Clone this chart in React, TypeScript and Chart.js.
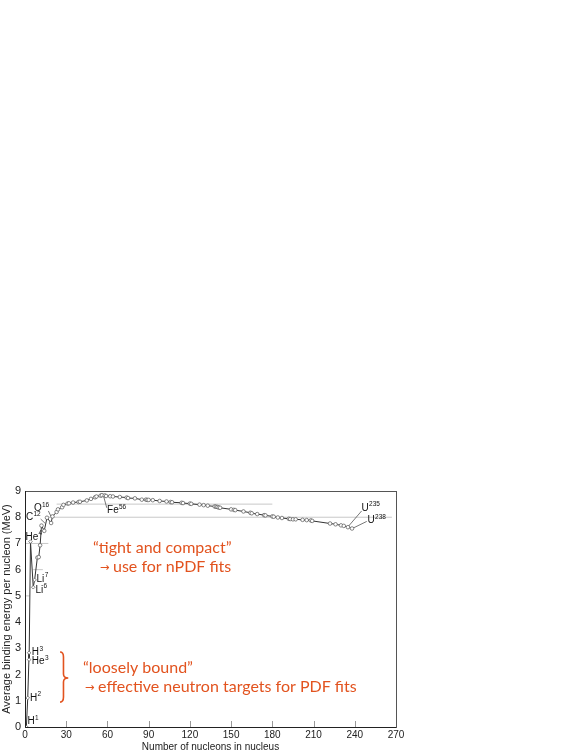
import React, { useEffect, useRef } from "react";
import { Chart, registerables } from "chart.js";
Chart.register(...registerables);

// Mass number A of each nuclide (curve order)
const massNumbers = [
  1, 2, 3, 3, 4, 6, 7, 9, 10, 11, 12, 14, 16, 19, 20, 23, 24, 27, 28, 31, 32, 35, 39, 40,
  45, 48, 51, 52, 55, 56, 58, 59, 62, 64, 69, 74, 75, 80, 85, 88, 89, 90, 93, 98, 103,
  106, 107, 114, 115, 120, 121, 127, 130, 133, 138, 139, 140, 141, 142, 150, 152, 153,
  159, 164, 165, 169, 174, 175, 180, 181, 184, 187, 192, 193, 195, 197, 202, 205, 208,
  209, 222, 226, 230, 232, 235, 238,
];
// Average binding energy per nucleon (MeV)
const bindingEnergy = [
  0, 1.11, 2.83, 2.57, 7.07, 5.33, 5.61, 6.46, 6.48, 6.93, 7.68, 7.48, 7.98, 7.78, 8.03,
  8.2, 8.3, 8.38, 8.47, 8.52, 8.53, 8.56, 8.58, 8.59, 8.64, 8.7, 8.76, 8.79, 8.82, 8.84,
  8.83, 8.81, 8.8, 8.79, 8.77, 8.75, 8.73, 8.72, 8.67, 8.67, 8.66, 8.66, 8.65, 8.62, 8.6,
  8.58, 8.57, 8.55, 8.54, 8.52, 8.51, 8.48, 8.46, 8.44, 8.41, 8.4, 8.39, 8.37, 8.36, 8.3,
  8.28, 8.27, 8.22, 8.17, 8.15, 8.12, 8.08, 8.07, 8.03, 8.02, 7.99, 7.97, 7.94, 7.93,
  7.92, 7.92, 7.9, 7.89, 7.88, 7.86, 7.76, 7.73, 7.69, 7.67, 7.62, 7.57,
];

const xTickValues = [0, 30, 60, 90, 120, 150, 180, 210, 240, 270];
const yTickValues = [0, 1, 2, 3, 4, 5, 6, 7, 8, 9];

// partial reference lines: energy, from A, to A
const refLineEnergy = [8.5, 8, 7, 6, 5];
const refLineFrom = [23, 17, 0, 6, 0];
const refLineTo = [180, 267, 17, 13, 3.5];

// nuclide labels: base, superscript, A, E (label anchor)
const labelBase = ["H", "H", "H", "He", "He", "Li", "Li", "C", "O", "Fe", "U", "U"];
const labelSup = ["1", "2", "3", "3", "4", "7", "6", "12", "16", "56", "235", "238"];
const labelA = [1.8, 3.6, 5.0, 5.0, 0.3, 8.4, 7.6, 0.7, 6.5, 59.7, 244.9, 249.3];
const labelE = [0.23, 1.11, 2.86, 2.52, 7.25, 5.65, 5.23, 7.98, 8.34, 8.26, 8.36, 7.88];

// leader lines
const leaderA1 = [57, 235.3, 237.8, 11.4, 17];
const leaderE1 = [8.84, 7.65, 7.56, 7.93, 8.24];
const leaderA2 = [59.5, 245, 248.7, 14.6, 19.4];
const leaderE2 = [8.36, 8.24, 7.84, 7.77, 7.98];

// annotation texts (arrow prefix drawn separately)
const noteArrow = [false, true, false, true];
const noteText = [
  "\u201Ctight and compact\u201D",
  "use for nPDF fits",
  "\u201Cloosely bound\u201D",
  "effective neutron targets for PDF fits",
];
const noteA = [49.5, 54.6, 42.2, 43.7];
const noteE = [6.82, 6.1, 2.25, 1.53];

// brace (A, E) top, tip, bottom
const braceA = [25.5, 28.0, 31.5];
const braceE = [2.86, 1.87, 0.95];

const ORANGE = "#e2531f";
const AXIS_FONT = "'Liberation Sans', Arial, sans-serif";

export default function App() {
  const ref = useRef<HTMLCanvasElement | null>(null);
  useEffect(() => {
    document.body.style.margin = "0";
    const canvas = ref.current!;
    const curve = massNumbers.map((a, i) => ({ x: a, y: bindingEnergy[i] }));
    const refSets = refLineEnergy.map((e, i) => ({
      type: "line" as const,
      data: [
        { x: refLineFrom[i], y: e },
        { x: refLineTo[i], y: e },
      ],
      borderColor: "#c8c8c8",
      borderWidth: 1,
      pointRadius: 0,
      order: 2,
    }));
    const leaderSets = leaderA1.map((a, i) => ({
      type: "line" as const,
      data: [
        { x: a, y: leaderE1[i] },
        { x: leaderA2[i], y: leaderE2[i] },
      ],
      borderColor: "#555",
      borderWidth: 0.8,
      pointRadius: 0,
      order: 1,
    }));

    const overlay = {
      id: "overlay",
      afterDraw(chart: any) {
        const { ctx, chartArea } = chart;
        const xs = chart.scales.x;
        const ys = chart.scales.y;
        ctx.save();
        // x tick marks inside
        ctx.strokeStyle = "#999";
        ctx.lineWidth = 1;
        xTickValues.forEach((v) => {
          const px = Math.round(xs.getPixelForValue(v)) + 0.5;
          ctx.beginPath();
          ctx.moveTo(px, chartArea.bottom);
          ctx.lineTo(px, chartArea.bottom - 6);
          ctx.stroke();
        });
        // frame
        ctx.strokeStyle = "#555";
        ctx.lineWidth = 1;
        ctx.strokeRect(
          Math.round(chartArea.left) + 0.5,
          Math.round(chartArea.top) + 0.5,
          Math.round(chartArea.right - chartArea.left),
          Math.round(chartArea.bottom - chartArea.top)
        );
        ctx.strokeStyle = "#222";
        ctx.beginPath();
        ctx.moveTo(Math.round(chartArea.left) + 0.5, chartArea.top);
        ctx.lineTo(Math.round(chartArea.left) + 0.5, Math.round(chartArea.bottom) + 0.5);
        ctx.lineTo(chartArea.right, Math.round(chartArea.bottom) + 0.5);
        ctx.stroke();

        // nuclide labels
        ctx.fillStyle = "#111";
        ctx.textBaseline = "middle";
        ctx.textAlign = "left";
        labelBase.forEach((b, i) => {
          const px = xs.getPixelForValue(labelA[i]);
          const py = ys.getPixelForValue(labelE[i]);
          ctx.font = `10px ${AXIS_FONT}`;
          ctx.fillText(b, px, py);
          const w = ctx.measureText(b).width;
          ctx.font = `6.5px ${AXIS_FONT}`;
          ctx.fillText(labelSup[i], px + w + 0.3, py - 3.2);
        });

        // notes
        ctx.fillStyle = ORANGE;
        noteText.forEach((t, i) => {
          let px = xs.getPixelForValue(noteA[i]);
          const py = ys.getPixelForValue(noteE[i]);
          if (noteArrow[i]) {
            ctx.font = "11.5px 'DejaVu Sans', sans-serif";
            ctx.fillText("\u2192", px, py + 1);
            px += 13;
          }
          ctx.font = "16px Lato, 'Open Sans', sans-serif";
          ctx.fillText(t, px, py);
        });

        // brace
        const bx0 = xs.getPixelForValue(braceA[0]);
        const bx1 = xs.getPixelForValue(braceA[1]);
        const bx2 = xs.getPixelForValue(braceA[2]);
        const by0 = ys.getPixelForValue(braceE[0]);
        const by1 = ys.getPixelForValue(braceE[1]);
        const by2 = ys.getPixelForValue(braceE[2]);
        ctx.strokeStyle = ORANGE;
        ctx.lineWidth = 1.6;
        ctx.beginPath();
        ctx.moveTo(bx0, by0);
        ctx.quadraticCurveTo(bx1, by0, bx1, by0 + 5);
        ctx.lineTo(bx1, by1 - 4);
        ctx.quadraticCurveTo(bx1, by1, bx2, by1);
        ctx.quadraticCurveTo(bx1, by1, bx1, by1 + 4);
        ctx.lineTo(bx1, by2 - 5);
        ctx.quadraticCurveTo(bx1, by2, bx0, by2);
        ctx.stroke();
        ctx.restore();
      },
    };

    const chart = new Chart(canvas, {
      type: "line",
      data: {
        datasets: [
          {
            data: curve,
            borderColor: "#333",
            borderWidth: 1,
            pointRadius: 1.8,
            pointBorderWidth: 0.7,
            pointBorderColor: "#555",
            pointBackgroundColor: "#fff",
            pointStyle: massNumbers.map((a) => (a <= 7 ? "rectRot" : "circle")) as any,
            order: 0,
          },
          ...leaderSets,
          ...refSets,
        ] as any,
      },
      options: {
        animation: false,
        responsive: false,
        parsing: false as any,
        layout: { padding: { top: 491, left: 0, right: 185, bottom: 0 } },
        plugins: { legend: { display: false }, tooltip: { enabled: false } },
        scales: {
          x: {
            type: "linear",
            min: 0,
            max: 270,
            afterFit: (s: any) => {
              s.height = 25;
            },
            afterBuildTicks: (s: any) => {
              s.ticks = xTickValues.map((v) => ({ value: v }));
            },
            grid: { display: false, drawTicks: false },
            border: { display: false },
            ticks: { padding: 2, color: "#222", font: { size: 10, family: AXIS_FONT } },
            title: {
              display: true,
              text: "Number of nucleons in nucleus",
              color: "#222",
              font: { size: 10, family: AXIS_FONT, lineHeight: 1 },
              padding: { top: 0, bottom: 0 },
            },
          },
          y: {
            type: "linear",
            min: 0,
            max: 9,
            afterFit: (s: any) => {
              s.width = 25;
            },
            afterBuildTicks: (s: any) => {
              s.ticks = yTickValues.map((v) => ({ value: v }));
            },
            grid: { display: false, drawTicks: false },
            border: { display: false },
            ticks: { padding: 4, color: "#222", font: { size: 11, family: AXIS_FONT } },
            title: {
              display: true,
              text: "Average binding energy per nucleon (MeV)",
              color: "#222",
              font: { size: 11, family: AXIS_FONT },
              padding: { top: 0, bottom: 0 },
            },
          },
        },
      },
      plugins: [overlay],
    });
    return () => chart.destroy();
  }, []);
  return (
    <canvas
      ref={ref}
      width={581}
      height={752}
      style={{ display: "block", width: "581px", height: "752px" }}
    />
  );
}
